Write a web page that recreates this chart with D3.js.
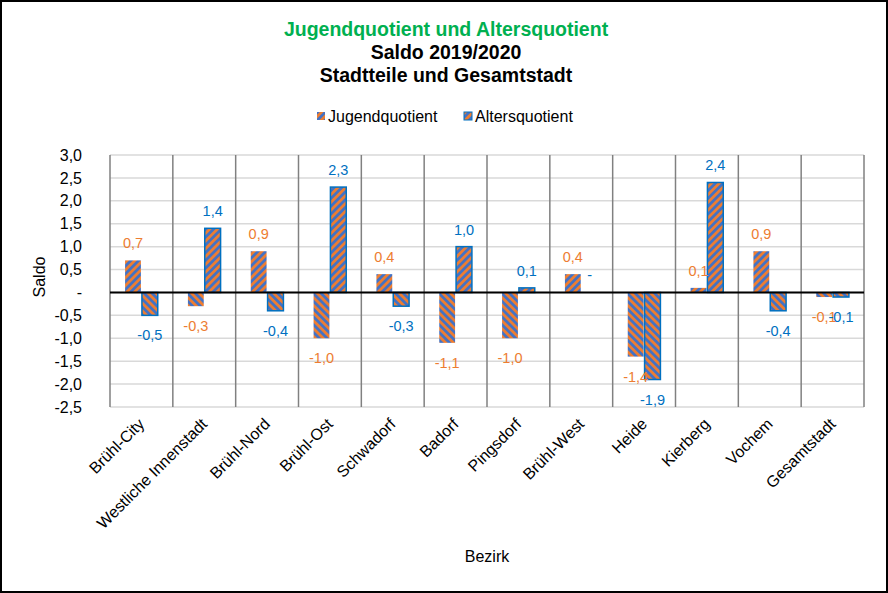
<!DOCTYPE html>
<html><head><meta charset="utf-8">
<script src="https://cdn.jsdelivr.net/npm/d3@7"></script>
<style>body{margin:0;background:#fff}svg{display:block;font-family:"Liberation Sans",Arial,sans-serif}</style>
</head><body><svg id="c" width="888" height="593"></svg>
<script>
const categories = ["Brühl-City","Westliche Innenstadt","Brühl-Nord","Brühl-Ost","Schwadorf","Badorf","Pingsdorf","Brühl-West","Heide","Kierberg","Vochem","Gesamtstadt"];
const jugendquotient = [0.7,-0.3,0.9,-1.0,0.4,-1.1,-1.0,0.4,-1.4,0.1,0.9,-0.1];
const altersquotient = [-0.5,1.4,-0.4,2.3,-0.3,1.0,0.1,0,-1.9,2.4,-0.4,-0.1];
const seriesNames = ["Jugendquotient","Altersquotient"];
const yTicks = [3.0,2.5,2.0,1.5,1.0,0.5,0,-0.5,-1.0,-1.5,-2.0,-2.5];
const titleLines = ["Jugendquotient und Altersquotient","Saldo 2019/2020","Stadtteile und Gesamtstadt"];

const W=888,H=593;
const svg=d3.select("#c");
const ORANGE="#ED7D31", BLUE="#4472C4", BLUEDARK="#0070C0";
const m={l:110,r:24,t:155,b:186};
const x0=d3.scaleBand().domain(categories).range([m.l,W-m.r]).padding(0);
const y=d3.scaleLinear().domain([-2.5,3.0]).range([H-m.b,m.t]);
const bw=x0.bandwidth();
const gw=0.52;
const x1=d3.scaleBand().domain(seriesNames).range([0,bw*gw]).paddingInner(0.06);
const off=(bw-bw*gw)/2;
const fmt=v=>Math.abs(v)<1e-9?"-":d3.format(".1f")(v).replace(".",",").replace("\u2212","-");

// patterns
const defs=svg.append("defs");
function pat(id,bg,fg,rot){
  const p=defs.append("pattern").attr("id",id).attr("patternUnits","userSpaceOnUse")
    .attr("width",5.5).attr("height",5.5).attr("patternTransform",`rotate(${rot})`);
  p.append("rect").attr("width",5.5).attr("height",5.5).attr("fill",bg);
  p.append("rect").attr("width",2.75).attr("height",5.5).attr("fill",fg);
}
pat("pJ",ORANGE,BLUE,45);
pat("pA",BLUE,ORANGE,45);
pat("pJn",ORANGE,BLUE,-45);
pat("pAn",BLUE,ORANGE,-45);

// border
svg.append("rect").attr("x",1).attr("y",1).attr("width",W-2).attr("height",H-2).attr("fill","#fff").attr("stroke","#000").attr("stroke-width",2);

// titles
const tcol=["#00B050","#000","#000"], tby=[36,59,82];
titleLines.forEach((t,i)=>svg.append("text").attr("x",446).attr("y",tby[i]).attr("text-anchor","middle")
  .attr("font-weight","bold").attr("font-size",19.5).attr("fill",tcol[i]).text(t));

// legend
const leg=[{n:"Jugendquotient",f:"url(#pJ)",x:317,s:"none"},{n:"Altersquotient",f:"url(#pA)",x:464,s:BLUEDARK}];
leg.forEach(d=>{
  svg.append("rect").attr("x",d.x).attr("y",112).attr("width",8).attr("height",8).attr("fill",d.f).attr("stroke",d.s).attr("stroke-width",1);
  svg.append("text").attr("x",d.x+11).attr("y",122).attr("font-size",16).attr("fill","#000").text(d.n);
});

// gridlines
const g=svg.append("g");
g.selectAll("line.h").data(yTicks).join("line").attr("x1",m.l).attr("x2",W-m.r)
  .attr("y1",d=>y(d)).attr("y2",d=>y(d)).attr("stroke","#d9d9d9").attr("stroke-width",1.5);
// vertical separators
const seps=categories.map(c=>x0(c)).concat([W-m.r]);
g.selectAll("line.v").data(seps).join("line").attr("x1",d=>d).attr("x2",d=>d)
  .attr("y1",y(3.0)).attr("y2",y(-2.5)).attr("stroke","#808080").attr("stroke-width",1.5);

// y axis labels
const yAxis=d3.axisLeft(y).tickValues(yTicks).tickFormat(fmt).tickSize(0).tickPadding(0);
const ya=svg.append("g").attr("transform",`translate(82,0)`).call(yAxis);
ya.select(".domain").remove();
ya.selectAll("text").attr("font-size",16).attr("fill","#000").attr("font-family","Liberation Sans, Arial, sans-serif");

// bars
const data=categories.map((c,i)=>({c,vals:[{s:"Jugendquotient",v:jugendquotient[i]},{s:"Altersquotient",v:altersquotient[i]}]}));
const grp=svg.append("g").selectAll("g").data(data).join("g").attr("transform",d=>`translate(${x0(d.c)+off},0)`);
grp.selectAll("rect").data(d=>d.vals).join("rect")
  .attr("x",d=>x1(d.s)).attr("width",x1.bandwidth())
  .attr("y",d=>Math.min(y(d.v),y(0))).attr("height",d=>Math.abs(y(d.v)-y(0)))
  .attr("fill",d=>`url(#p${d.s==="Jugendquotient"?"J":"A"}${d.v<0?"n":""})`)
  .attr("stroke",d=>d.s==="Jugendquotient"?"none":BLUEDARK).attr("stroke-width",1.5);
grp.selectAll("text").data(d=>d.vals).join("text")
  .attr("x",d=>x1(d.s)+x1.bandwidth()/2)
  .attr("y",d=>d.v>=0?y(d.v)-12:y(d.v)+25)
  .attr("text-anchor","middle").attr("font-size",14.5)
  .attr("fill",d=>d.s==="Jugendquotient"?ORANGE:BLUEDARK).text(d=>fmt(d.v));

// zero line
svg.append("line").attr("x1",m.l).attr("x2",W-m.r).attr("y1",y(0)).attr("y2",y(0)).attr("stroke","#000").attr("stroke-width",2);

// x labels
svg.append("g").selectAll("text").data(categories).join("text")
  .attr("transform",d=>`translate(${x0(d)+bw/2+4},${y(-2.5)+18}) rotate(-45)`)
  .attr("text-anchor","end").attr("font-size",16).attr("fill","#000").text(d=>d);

// axis titles
svg.append("text").attr("transform","translate(45,277) rotate(-90)").attr("text-anchor","middle").attr("font-size",16).text("Saldo");
svg.append("text").attr("x",487).attr("y",562).attr("text-anchor","middle").attr("font-size",16).text("Bezirk");
</script></body></html>
